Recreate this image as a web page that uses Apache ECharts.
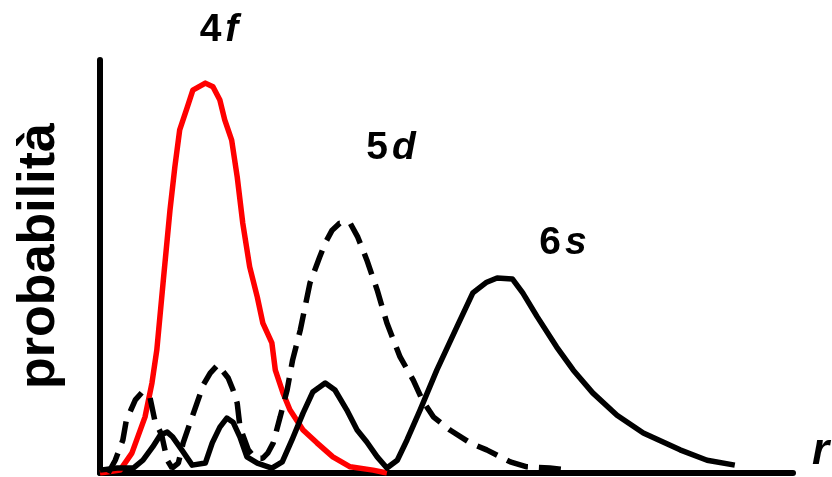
<!DOCTYPE html>
<html>
<head>
<meta charset="utf-8">
<script src="https://cdn.jsdelivr.net/npm/echarts@6/dist/echarts.min.js"></script>
<style>html,body{margin:0;padding:0;background:#fff}#c{width:832px;height:477px}</style>
</head>
<body>
<div id="c"></div>
<script>
// r (arbitrary units), probability (arbitrary units)
const r4f = [0,2.9,4.6,6.5,7.5,8.2,9.1,10.1,10.8,11.5,12.6,13.4,15.2,16.3,17.3,18.0,19.0,19.8,20.6,21.6,22.7,23.5,24.8,25.3,26.4,27.4,29.3,31.3,33.6,36.1,39.4,41.4];
const p4f = [0,0.7,4.8,13.6,21.8,29.8,46.0,63.7,74.1,83.1,88.6,92.7,94.4,93.5,90.3,85.5,80.6,71.7,60.5,49.9,42.6,36.3,31.5,24.9,19.4,15.3,10.4,7.3,3.9,1.5,0.7,0];

const r5d = [1.2,2.2,3.3,3.8,5.1,6.1,7.2,7.9,8.9,9.7,10.4,11.3,12.0,13.3,14.9,15.9,17.0,18.5,19.2,19.8,20.2,21.4,22.4,23.5,24.2,25.0,26.0,27.0,27.8,28.9,30.3,31.7,32.5,33.5,34.6,36.1,37.2,38.5,40.0,41.4,43.3,45.2,46.5,48.1,50.5,53.4,55.8,59.2,61.6,64.9,67.8];
const p5d = [0,3.1,8.0,12.8,17.7,19.6,18.4,12.8,9.2,3.1,1.2,2.4,7.3,13.6,21.3,24.2,26.2,23.0,20.1,16.9,11.1,5.6,3.6,3.6,4.8,7.3,13.6,20.1,27.4,34.6,46.0,52.3,55.7,58.8,60.5,60.5,57.1,51.6,44.3,36.3,28.1,22.5,17.7,13.6,10.4,7.3,5.6,2.7,1.5,1.2,0.7];

const r6s = [0,2.5,4.8,6.2,7.6,8.7,9.7,10.5,11.8,13.3,15.2,16.2,17.3,18.3,19.2,20.2,21.2,22.7,24.8,26.3,27.7,29.3,30.7,32.5,33.9,35.6,37.1,38.5,40.0,41.4,42.9,44.3,46.2,48.6,51.5,53.8,55.8,57.3,59.5,61.0,63.1,65.9,68.3,71.1,74.6,78.4,83.7,87.6,91.6];
const p6s = [0.7,1.2,1.2,3.1,6.3,9.2,9.9,8.7,5.6,1.9,2.4,7.3,11.1,13.3,12.3,8.7,3.9,2.4,1.2,2.7,8.0,14.5,19.6,21.8,20.1,15.3,10.4,7.5,3.9,1.2,3.1,8.0,15.3,24.9,35.4,43.6,46.2,47.2,47.0,43.6,37.8,30.5,24.9,19.4,14.0,9.7,5.6,3.1,1.9];

const labels = [
  {num: '4', let: 'f', x: 219, y: 30},
  {num: '5', let: 'd', x: 391, y: 148},
  {num: '6', let: 's', x: 563, y: 243}
];
const yName = 'probabilità';
const xName = 'r';

const zip = (a, b) => a.map((v, i) => [v, b[i]]);
const FONT = '"Liberation Sans", Arial, sans-serif';

const chart = echarts.init(document.getElementById('c'), null, {renderer: 'canvas'});
chart.setOption({
  animation: false,
  backgroundColor: '#fff',
  grid: {left: 100, right: 39, top: 60, bottom: 4, containLabel: false},
  xAxis: {
    type: 'value', min: 0, max: 100,
    axisLine: {show: true, lineStyle: {color: '#000', width: 6}},
    axisTick: {show: false}, axisLabel: {show: false}, splitLine: {show: false}
  },
  yAxis: {
    type: 'value', min: 0, max: 100,
    axisLine: {show: true, lineStyle: {color: '#000', width: 6}},
    axisTick: {show: false}, axisLabel: {show: false}, splitLine: {show: false}
  },
  series: [
    {type: 'line', name: '4f', data: zip(r4f, p4f), showSymbol: false, smooth: false,
      lineStyle: {color: '#ff0000', width: 5.5, join: 'round'}},
    {type: 'line', name: '5d', data: zip(r5d, p5d), showSymbol: false, smooth: false,
      lineStyle: {color: '#000', width: 5.5, type: [22, 11], cap: 'butt'}},
    {type: 'line', name: '6s', data: zip(r6s, p6s), showSymbol: false, smooth: false,
      lineStyle: {color: '#000', width: 5.5, join: 'round'}}
  ],
  graphic: [
    ...labels.map(l => ({
      type: 'text', x: l.x, y: l.y,
      style: {
        text: '{n|' + l.num + '}{i|' + l.let + '}',
        align: 'center', verticalAlign: 'middle',
        rich: {
          n: {fontFamily: FONT, fontWeight: 'bold', fontSize: 39, fill: '#000'},
          i: {fontFamily: FONT, fontWeight: 'bold', fontStyle: 'italic', fontSize: 39, fill: '#000', padding: [0, 0, 0, 4]}
        }
      }
    })),
    {type: 'text', x: 40, y: 256, rotation: Math.PI / 2,
      style: {text: yName, align: 'center', verticalAlign: 'middle',
        font: 'bold 52px ' + FONT, fill: '#000'}},
    {type: 'text', x: 812, y: 452,
      style: {text: xName, align: 'left', verticalAlign: 'middle',
        font: 'italic bold 44px ' + FONT, fill: '#000'}}
  ]
});
</script>
</body>
</html>
